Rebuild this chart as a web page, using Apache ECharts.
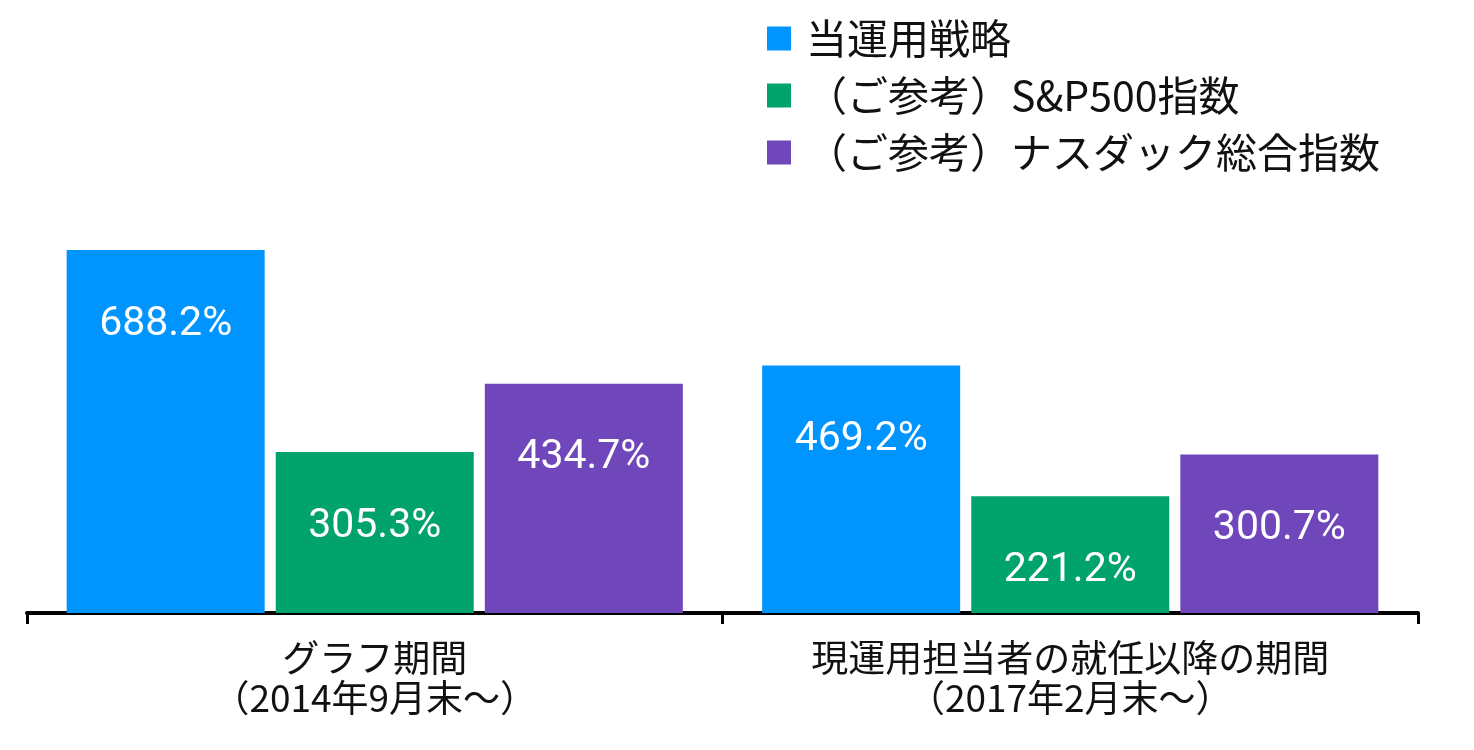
<!DOCTYPE html>
<html>
<head>
<meta charset="utf-8">
<script src="https://cdn.jsdelivr.net/npm/echarts@6/dist/echarts.min.js"></script>
<style>
html,body{margin:0;padding:0;background:#fff;}
#main{width:1474px;height:750px;}
</style>
</head>
<body>
<div id="main"></div>
<script>
var myChart = echarts.init(document.getElementById('main'));

// カテゴリと系列データ
var categories = ['グラフ期間\n（2014年9月末～）', '現運用担当者の就任以降の期間\n（2017年2月末～）'];
var seriesNames = ['当運用戦略', '（ご参考）S&P500指数', '（ご参考）ナスダック総合指数'];
var strategy = [688.2, 469.2];
var sp500 = [305.3, 221.2];
var nasdaq = [434.7, 300.7];

var colors = ['#0094FF', '#00A36C', '#7046BB'];
var font = 'Roboto, "Noto Sans CJK JP", sans-serif';
var jpFont = '"Noto Sans CJK JP", sans-serif';

function makeSeries(name, values, color) {
    return {
        name: name,
        type: 'bar',
        data: values,
        barWidth: 198,
        barGap: '5.6%',
        itemStyle: { color: color },
        label: {
            show: true,
            position: 'insideTop',
            distance: 54,
            color: '#fff',
            fontSize: 41,
            fontFamily: font,
            formatter: function (p) { return p.value.toFixed(1) + '%'; }
        }
    };
}

var option = {
    animation: false,
    grid: { left: 27, right: 56, top: 200, bottom: 137 },
    legend: {
        orient: 'vertical',
        left: 762,
        top: 13,
        itemWidth: 24,
        itemHeight: 24,
        itemGap: 16,
        icon: 'rect',
        data: seriesNames,
        textStyle: {
            fontSize: 41,
            color: '#111',
            fontFamily: jpFont,
            padding: [0, 0, 0, 10]
        }
    },
    xAxis: {
        type: 'category',
        data: categories,
        offset: 3,
        axisLine: { lineStyle: { color: '#000', width: 4 } },
        axisTick: { show: true, length: 11, lineStyle: { color: '#000', width: 3 } },
        axisLabel: {
            margin: 22,
            fontSize: 37,
            lineHeight: 40,
            color: '#111',
            fontFamily: jpFont
        }
    },
    yAxis: {
        type: 'value',
        min: 0,
        max: 783,
        show: false,
        splitLine: { show: false }
    },
    series: [
        makeSeries(seriesNames[0], strategy, colors[0]),
        makeSeries(seriesNames[1], sp500, colors[1]),
        makeSeries(seriesNames[2], nasdaq, colors[2])
    ]
};

myChart.setOption(option);
</script>
</body>
</html>
